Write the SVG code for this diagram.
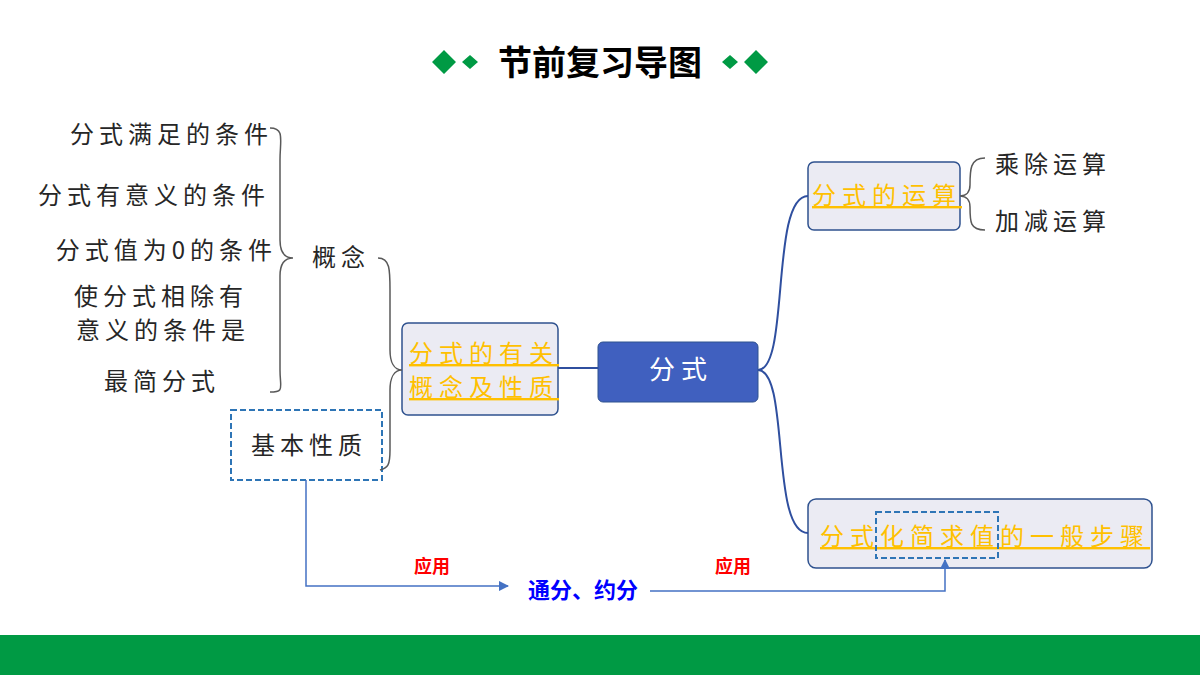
<svg xmlns="http://www.w3.org/2000/svg" width="1200" height="675" viewBox="0 0 1200 675">
<defs>
<style>
.t{font-family:"Noto Sans CJK SC","Noto Sans",sans-serif;font-size:24px;fill:#262626;letter-spacing:5px}
.o{font-family:"Noto Sans CJK SC","Noto Sans",sans-serif;font-size:24px;fill:#ffc000;text-decoration:underline;letter-spacing:6px}
.br{fill:none;stroke:#595959;stroke-width:1.5}
.bl{fill:none;stroke:#2f4f9f;stroke-width:2}
.box{fill:#ebebf3;stroke:#2f528f;stroke-width:1.5}
.dash{fill:none;stroke:#2e75b6;stroke-width:2;stroke-dasharray:6,3}
.ar{fill:none;stroke:#4472c4;stroke-width:1.5}
.lab{font-family:"Noto Sans CJK SC",sans-serif;font-size:18px;font-weight:bold;fill:#ff0000}
</style>
<marker id="ah" viewBox="0 0 10 10" refX="9" refY="5" markerWidth="7" markerHeight="7" orient="auto"><path d="M0,0L10,5L0,10z" fill="#4472c4"/></marker>
</defs>
<rect width="1200" height="675" fill="#fff"/>
<g id="title">
<path d="M444,50l12,12l-12,12l-12,-12z M470,55l8,7l-8,7l-8,-7z M730,55l8,7l-8,7l-8,-7z M756,50l12,12l-12,12l-12,-12z" fill="#009a44"/>
<text x="600" y="75" text-anchor="middle" font-family="Noto Sans CJK SC,sans-serif" font-size="34" font-weight="bold" fill="#000">节前复习导图</text>
</g>
<rect x="0" y="635" width="1200" height="40" fill="#009a44"/>
<g id="left-texts">
<text class="t" x="273" y="143" text-anchor="end">分式满足的条件</text>
<text class="t" x="270" y="204" text-anchor="end">分式有意义的条件</text>
<text class="t" x="277" y="259" text-anchor="end">分式值为0的条件</text>
<text class="t" x="161" y="305" text-anchor="middle">使分式相除有</text>
<text class="t" x="163" y="339" text-anchor="middle">意义的条件是</text>
<text class="t" x="162" y="390" text-anchor="middle">最简分式</text>
<text class="t" x="341" y="266" text-anchor="middle">概念</text>
</g>
<g id="node-jiben"><rect class="dash" x="231" y="410" width="151" height="70"/><text class="t" x="309" y="454" text-anchor="middle">基本性质</text></g>
<g id="node-gainian"><rect class="box" x="402" y="323" width="156" height="92" rx="6"/><text class="o" x="484" y="362" text-anchor="middle">分式的有关</text><text class="o" x="484" y="396" text-anchor="middle">概念及性质</text></g>
<g id="node-fenshi"><rect x="598" y="342" width="160" height="60" rx="5" fill="#4060bf" stroke="#2f528f"/><text x="681" y="379" text-anchor="middle" font-family="Noto Sans CJK SC,sans-serif" font-size="26" letter-spacing="6" fill="#fff">分式</text></g>
<g id="node-yunsuan"><rect class="box" x="808" y="162" width="152" height="68" rx="6"/><text class="o" x="887" y="204" text-anchor="middle">分式的运算</text></g>
<text class="t" x="1053" y="173" text-anchor="middle">乘除运算</text>
<text class="t" x="1053" y="230" text-anchor="middle">加减运算</text>
<g id="node-buzhou"><rect class="box" x="808" y="499" width="344" height="69" rx="8"/><text class="o" x="985" y="545" text-anchor="middle">分式化简求值的一般步骤</text><rect class="dash" x="876" y="512" width="122" height="46"/></g>
<text class="lab" x="432" y="573" text-anchor="middle">应用</text>
<text class="lab" x="733" y="573" text-anchor="middle">应用</text>
<text x="583" y="598" text-anchor="middle" font-family="Noto Sans CJK SC,sans-serif" font-size="22" font-weight="bold" fill="#0000ff">通分、约分</text>
<g id="connectors">
<path class="br" d="M270,128 C285,128 280,140 280,160 L280,240 C280,252 284,258 293,258 C284,258 280,264 280,276 L280,370 C280,388 285,392 270,392"/>
<path class="br" d="M378,258 C390,258 390,270 390,290 L390,350 C390,362 394,370 402,370 C394,370 390,378 390,390 L390,450 C390,465 388,468 380,470"/>
<path class="bl" d="M558,368 L598,368"/>
<path class="bl" d="M758,370 C790,370 770,196 808,196"/>
<path class="bl" d="M758,370 C790,370 770,533 808,533"/>
<path class="br" d="M985,158 C970,158 970,170 970,185 C970,192 966,196 960,196 C966,196 970,200 970,207 C970,222 970,230 985,230"/>
<path class="ar" d="M306,480 L306,586 L508,586" marker-end="url(#ah)"/>
<path class="ar" d="M650,591 L945,591 L945,560" marker-end="url(#ah)"/>
</g>
</svg>
